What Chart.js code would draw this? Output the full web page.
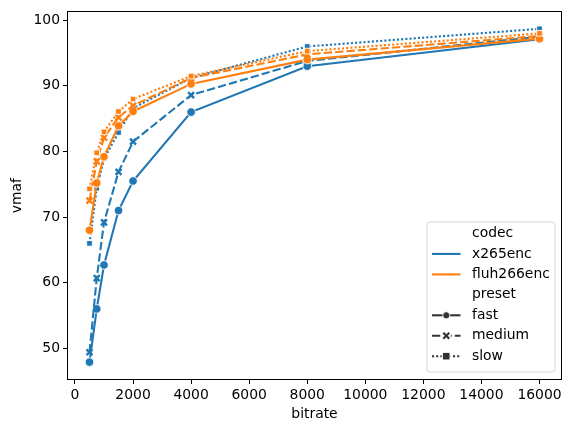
<!DOCTYPE html>
<html>
<head>
<meta charset="utf-8">
<script src="https://cdn.jsdelivr.net/npm/chart.js@4"></script>
<style>
  html, body { margin: 0; padding: 0; background: #ffffff; }
  #wrap { width: 571px; height: 432px; position: relative; }
</style>
</head>
<body>
<div id="wrap"><canvas id="c" width="571" height="432"></canvas></div>
<script>
// ---- data ----
const bitrates = [500, 750, 1000, 1500, 2000, 4000, 8000, 16000];
const x265Fast   = [47.9, 56.0, 62.7, 71.0, 75.5, 86.0, 93.0, 97.1];
const x265Medium = [49.4, 60.7, 69.2, 76.9, 81.5, 88.6, 93.8, 97.5];
const x265Slow   = [66.0, 74.4, 78.9, 82.9, 86.6, 91.2, 96.0, 98.7];
const fluhFast   = [68.0, 75.2, 79.2, 83.9, 86.1, 90.3, 94.0, 97.2];
const fluhMedium = [72.5, 78.5, 82.1, 85.2, 87.0, 91.2, 94.8, 97.6];
const fluhSlow   = [74.3, 79.8, 83.0, 86.1, 88.0, 91.5, 95.3, 98.0];
const xTicks = [0, 2000, 4000, 6000, 8000, 10000, 12000, 14000, 16000];
const yTicks = [50, 60, 70, 80, 90, 100];
const codecs = ['x265enc', 'fluh266enc'];
const presets = ['fast', 'medium', 'slow'];

const BLUE = '#1f77b4', ORANGE = '#ff7f0e', GRAY = '#333333';
const FONT = 'DejaVu Sans';
const FS = 13.9;
const LW = 2.1;

const styleFor = {
  fast:   { dash: [], point: 'circle', r: 4.3 },
  medium: { dash: [8.3, 3.1], point: 'crossRot', r: 4.2 },
  slow:   { dash: [2.1, 2.1], point: 'rect', r: 4.0 }
};

function pts(vals) { return bitrates.map((b, i) => ({ x: b, y: vals[i] })); }

function mk(label, vals, color, preset, order) {
  const s = styleFor[preset];
  const isX = s.point === 'crossRot';
  return {
    label: label, data: pts(vals), borderColor: color, backgroundColor: color,
    borderWidth: LW, borderDash: s.dash, tension: 0, fill: false,
    pointStyle: s.point, pointRadius: s.r, pointHoverRadius: s.r,
    pointBackgroundColor: color,
    pointBorderColor: isX ? color : '#ffffff',
    pointBorderWidth: isX ? 2.4 : 0.9,
    order: order
  };
}

const datasets = [
  mk('x265enc fast',   x265Fast,   BLUE,   'fast',   6),
  mk('x265enc medium', x265Medium, BLUE,   'medium', 5),
  mk('x265enc slow',   x265Slow,   BLUE,   'slow',   4),
  mk('fluh266enc fast',   fluhFast,   ORANGE, 'fast',   3),
  mk('fluh266enc medium', fluhMedium, ORANGE, 'medium', 2),
  mk('fluh266enc slow',   fluhSlow,   ORANGE, 'slow',   1)
];

// frame + custom seaborn-like legend
const framePlugin = {
  id: 'frame',
  afterDatasetsDraw(chart) {
    const { ctx, chartArea: a } = chart;
    ctx.save();
    ctx.strokeStyle = '#000000';
    ctx.lineWidth = 1;
    ctx.strokeRect(Math.round(a.left) + 0.5, Math.round(a.top) + 0.5,
                   Math.round(a.right - a.left) - 1, Math.round(a.bottom - a.top) - 1);
    ctx.restore();
  },
  afterDraw(chart) {
    const { ctx, chartArea: a } = chart;
    const items = [
      { text: 'codec' },
      { text: codecs[0], color: BLUE, dash: [] },
      { text: codecs[1], color: ORANGE, dash: [] },
      { text: 'preset' },
      { text: presets[0], color: GRAY, dash: [], marker: 'circle' },
      { text: presets[1], color: GRAY, dash: [8.3, 3.1], marker: 'x' },
      { text: presets[2], color: GRAY, dash: [2.1, 2.1], marker: 'rect' }
    ];
    const w = 128, h = 150;
    const x0 = a.right - 7 - w, y0 = a.bottom - 8 - h;
    ctx.save();
    const r = 3;
    ctx.beginPath();
    ctx.moveTo(x0 + r, y0);
    ctx.arcTo(x0 + w, y0, x0 + w, y0 + h, r);
    ctx.arcTo(x0 + w, y0 + h, x0, y0 + h, r);
    ctx.arcTo(x0, y0 + h, x0, y0, r);
    ctx.arcTo(x0, y0, x0 + w, y0, r);
    ctx.closePath();
    ctx.fillStyle = 'rgba(255,255,255,0.8)';
    ctx.fill();
    ctx.strokeStyle = '#d6d6d6';
    ctx.lineWidth = 1;
    ctx.stroke();

    ctx.font = FS + 'px "' + FONT + '"';
    ctx.textBaseline = 'middle';
    ctx.textAlign = 'left';
    const rowH = 20.45;
    const firstY = y0 + 11.5;
    const hx0 = x0 + 5, hx1 = x0 + 33.5, tx = x0 + 45;
    items.forEach((it, i) => {
      const yy = firstY + i * rowH;
      ctx.fillStyle = '#000000';
      ctx.fillText(it.text, tx, yy);
      if (it.color) {
        ctx.strokeStyle = it.color;
        ctx.lineWidth = LW;
        ctx.setLineDash(it.dash);
        ctx.beginPath();
        ctx.moveTo(hx0, yy);
        ctx.lineTo(hx1, yy);
        ctx.stroke();
        ctx.setLineDash([]);
        const cx = (hx0 + hx1) / 2;
        if (it.marker === 'circle') {
          ctx.fillStyle = GRAY;
          ctx.beginPath(); ctx.arc(cx, yy, 3.6, 0, Math.PI * 2); ctx.fill();
          ctx.strokeStyle = '#fff'; ctx.lineWidth = 0.9; ctx.stroke();
        } else if (it.marker === 'x') {
          ctx.fillStyle = '#fff';
          ctx.fillRect(cx - 4.5, yy - 4.5, 9, 9);
          ctx.strokeStyle = GRAY; ctx.lineWidth = 2.2;
          ctx.beginPath();
          ctx.moveTo(cx - 3, yy - 3); ctx.lineTo(cx + 3, yy + 3);
          ctx.moveTo(cx + 3, yy - 3); ctx.lineTo(cx - 3, yy + 3);
          ctx.stroke();
        } else if (it.marker === 'rect') {
          ctx.fillStyle = '#fff';
          ctx.fillRect(cx - 4.5, yy - 4.5, 9, 9);
          ctx.fillStyle = GRAY;
          ctx.fillRect(cx - 3.3, yy - 3.3, 6.6, 6.6);
        }
      }
    });
    ctx.restore();
  }
};

new Chart(document.getElementById('c'), {
  type: 'line',
  data: { datasets: datasets },
  options: {
    responsive: false,
    animation: false,
    devicePixelRatio: 1,
    layout: { padding: { left: 0, top: 8, right: 9, bottom: 0 } },
    plugins: { legend: { display: false }, tooltip: { enabled: false } },
    scales: {
      x: {
        type: 'linear',
        min: -275, max: 16775,
        afterBuildTicks: (s) => { s.ticks = xTicks.map(v => ({ value: v })); },
        afterFit: (s) => { s.height = 52; },
        grid: { display: true, drawOnChartArea: false, drawTicks: true, tickLength: 4, color: '#000000', tickWidth: 1 },
        border: { display: false },
        ticks: { color: '#000000', font: { family: FONT, size: FS }, padding: 3, maxRotation: 0, autoSkip: false,
                 callback: (v) => String(v) },
        title: { display: true, text: 'bitrate', color: '#000000', font: { family: FONT, size: FS }, padding: { top: 0, bottom: 9 } }
      },
      y: {
        type: 'linear',
        min: 45.17, max: 101.36,
        afterBuildTicks: (s) => { s.ticks = yTicks.map(v => ({ value: v })); },
        afterFit: (s) => { s.width = 67; },
        grid: { display: true, drawOnChartArea: false, drawTicks: true, tickLength: 4, color: '#000000', tickWidth: 1 },
        border: { display: false },
        ticks: { color: '#000000', font: { family: FONT, size: FS }, padding: 3, autoSkip: false,
                 callback: (v) => String(v) },
        title: { display: true, text: 'vmaf', color: '#000000', font: { family: FONT, size: FS }, padding: { top: 9, bottom: 0 } }
      }
    }
  },
  plugins: [framePlugin]
});
</script>
</body>
</html>
